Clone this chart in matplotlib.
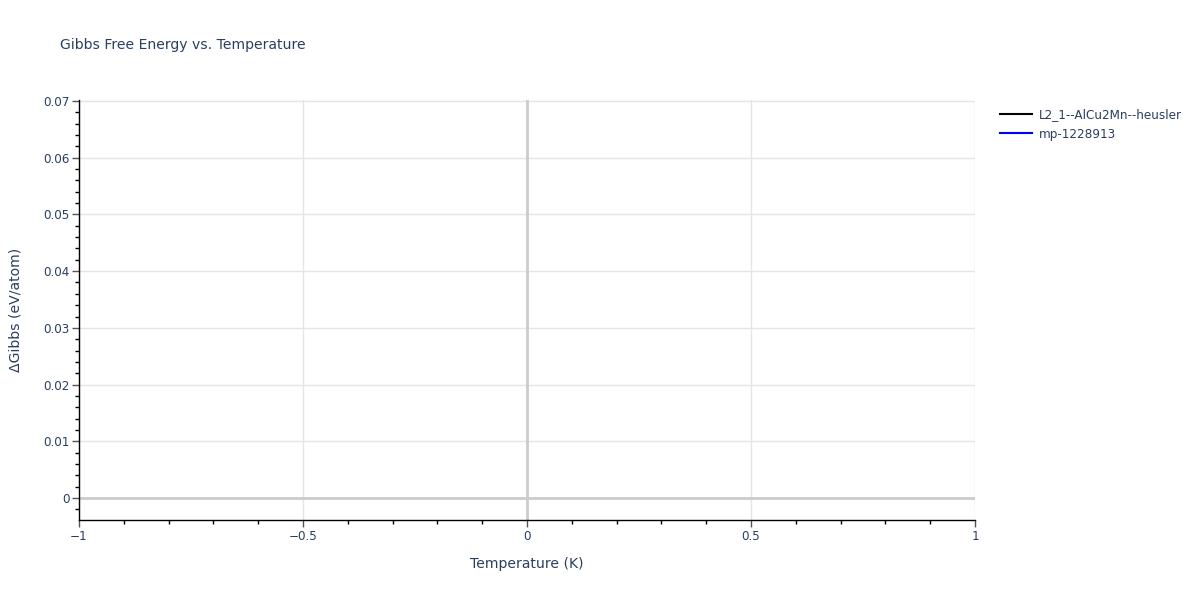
import matplotlib.pyplot as plt
from matplotlib.ticker import MultipleLocator

# series: (label, color, temperature, delta gibbs) - no visible points in the chart
names = ['L2_1--AlCu2Mn--heusler', 'mp-1228913']
colors = ['black', 'blue']
temps = [[], []]
gibbs = [[], []]

xticks = [-1, -0.5, 0, 0.5, 1]
xlabels = ['\u22121', '\u22120.5', '0', '0.5', '1']
yticks = [0, 0.01, 0.02, 0.03, 0.04, 0.05, 0.06, 0.07]

txt = '#2a3f5f'
plt.rcParams['font.family'] = ['DejaVu Sans']

fig = plt.figure(figsize=(12, 6), dpi=100)
ax = fig.add_axes([79 / 1200, 80 / 600, 896 / 1200, 420 / 600])

for name, c, t, g in zip(names, colors, temps, gibbs):
    ax.plot(t, g, color=c, lw=1.5, label=name)

ax.set_xlim(-1, 1)
ax.set_ylim(-0.00388, 0.07018)
ax.set_xticks(xticks)
ax.set_xticklabels(xlabels)
ax.set_yticks(yticks)
ax.set_yticklabels(['0'] + ['%.2f' % v for v in yticks[1:]])
ax.xaxis.set_minor_locator(MultipleLocator(0.1))
ax.yaxis.set_minor_locator(MultipleLocator(0.002))

ax.grid(True, which='major', color='#e5e5e5', lw=1)
ax.axhline(0, color='#cccccc', lw=2, zorder=1)
ax.axvline(0, color='#cccccc', lw=2, zorder=1)
ax.set_axisbelow(True)

for s in ['top', 'right']:
    ax.spines[s].set_visible(False)
for s in ['left', 'bottom']:
    ax.spines[s].set_color('black')
    ax.spines[s].set_linewidth(1)

ax.tick_params(which='major', direction='out', length=5, width=1, color='#555555',
               labelcolor=txt, labelsize=8.64, pad=2)
ax.tick_params(which='minor', direction='out', length=3, width=1, color='black')

ax.set_xlabel('Temperature (K)', color=txt, fontsize=10.08, labelpad=10)
ax.set_ylabel('\u0394Gibbs (eV/atom)', color=txt, fontsize=10.08, labelpad=15)
fig.text(60 / 1200, 1 - 45 / 600, 'Gibbs Free Energy vs. Temperature', color=txt,
         fontsize=10.08, va='center', ha='left')

fig.legend(loc='upper left', bbox_to_anchor=(1000 / 1200, 1 - 108 / 600), frameon=False,
           fontsize=8.64, labelcolor=txt, handlelength=2.7, handletextpad=0.5,
           labelspacing=0.55, borderaxespad=0, borderpad=0)

fig.savefig('out.png', dpi=100)
